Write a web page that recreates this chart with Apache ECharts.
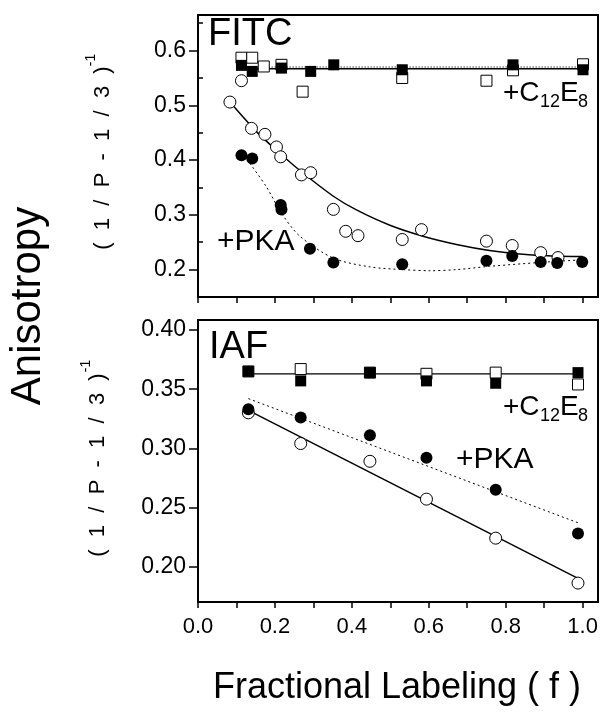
<!DOCTYPE html>
<html>
<head>
<meta charset="utf-8">
<script src="https://cdn.jsdelivr.net/npm/echarts@6/dist/echarts.min.js"></script>
<style>
html,body{margin:0;padding:0;background:#fff;}
#chart{width:608px;height:714px;}
</style>
</head>
<body>
<div id="chart"></div>
<script>
// ---------- DATA ----------
// FITC panel
const fitcSqFilledF = [0.113, 0.141, 0.217, 0.293, 0.353, 0.531, 0.819, 1.001];
const fitcSqFilledV = [0.573, 0.562, 0.568, 0.562, 0.574, 0.565, 0.574, 0.565];
const fitcSqOpenF = [0.113, 0.141, 0.171, 0.217, 0.272, 0.531, 0.750, 0.819, 1.001];
const fitcSqOpenV = [0.587, 0.587, 0.571, 0.574, 0.525, 0.550, 0.545, 0.564, 0.575];
const fitcCircOpenF = [0.083, 0.113, 0.139, 0.174, 0.204, 0.215, 0.269, 0.293, 0.352, 0.384, 0.416, 0.531, 0.581, 0.750, 0.817, 0.891, 0.936];
const fitcCircOpenV = [0.506, 0.545, 0.458, 0.447, 0.424, 0.406, 0.373, 0.377, 0.310, 0.270, 0.262, 0.255, 0.273, 0.252, 0.244, 0.231, 0.222];
const fitcCircFilledF = [0.113, 0.141, 0.215, 0.217, 0.291, 0.352, 0.531, 0.750, 0.817, 0.891, 0.934, 0.999];
const fitcCircFilledV = [0.409, 0.403, 0.318, 0.310, 0.238, 0.213, 0.210, 0.216, 0.225, 0.214, 0.212, 0.214];
// FITC fitted curves
const fitcDetSolidF = [0.113, 1.0];
const fitcDetSolidV = [0.567, 0.567];
const fitcDetDotF = [0.113, 1.0];
const fitcDetDotV = [0.570, 0.570];
const fitcFitF = [0.083, 0.152, 0.204, 0.265, 0.352, 0.412, 0.499, 0.585, 0.672, 0.758, 0.845, 0.920, 1.0];
const fitcFitV = [0.506, 0.452, 0.418, 0.381, 0.334, 0.309, 0.281, 0.261, 0.246, 0.235, 0.228, 0.225, 0.224];
const fitcPkaFitF = [0.135, 0.178, 0.217, 0.265, 0.352, 0.447, 0.533, 0.603, 0.672, 0.758, 0.888, 1.0];
const fitcPkaFitV = [0.394, 0.351, 0.303, 0.261, 0.221, 0.205, 0.200, 0.198, 0.200, 0.206, 0.213, 0.218];

// IAF panel
const iafF = [0.131, 0.267, 0.447, 0.594, 0.774, 0.988];
const iafSqFilledV = [0.365, 0.357, 0.364, 0.357, 0.355, 0.364];
const iafSqOpenV = [0.365, 0.367, 0.364, 0.363, 0.364, 0.354];
const iafCircFilledV = [0.333, 0.326, 0.311, 0.292, 0.265, 0.228];
const iafCircOpenV = [0.330, 0.304, 0.289, 0.257, 0.224, 0.186];
const iafDetLineF = [0.131, 0.988];
const iafDetLineV = [0.363, 0.363];
const iafFitF = [0.131, 0.988];
const iafFitV = [0.332, 0.190];
const iafPkaFitF = [0.131, 0.988];
const iafPkaFitV = [0.342, 0.237];

// Ticks
const xTickVals = [0, 0.1, 0.2, 0.3, 0.4, 0.5, 0.6, 0.7, 0.8, 0.9, 1.0];
const xLabelVals = [0, 0.2, 0.4, 0.6, 0.8, 1.0];
const yTopLabelVals = [0.2, 0.3, 0.4, 0.5, 0.6];
const yTopMinorVals = [0.15, 0.25, 0.35, 0.45, 0.55, 0.65];
const yBotLabelVals = [0.20, 0.25, 0.30, 0.35, 0.40];

const zip = (a, b) => a.map((v, i) => [v, b[i]]);

const FONT = 'Liberation Sans, Arial, Helvetica, sans-serif';
const chart = echarts.init(document.getElementById('chart'), null, {renderer: 'canvas'});

function xAxisDef(gridIndex, showLabels) {
  return {
    type: 'value', gridIndex, min: 0, max: 1.04,
    axisLine: {show: true, onZero: false, lineStyle: {color: '#000', width: 2}},
    axisTick: {show: true, inside: false, length: 6, lineStyle: {color: '#000', width: 1.5}, customValues: xTickVals},
    axisLabel: {show: showLabels, customValues: xLabelVals, color: '#000', fontSize: 22, fontFamily: FONT, margin: 14,
      formatter: v => v.toFixed(1)},
    splitLine: {show: false}
  };
}

const option = {
  animation: false,
  backgroundColor: '#fff',
  grid: [
    {left: 198, top: 15, width: 400, height: 282, show: true, borderColor: '#000', borderWidth: 2, backgroundColor: 'transparent'},
    {left: 198, top: 320, width: 400, height: 282, show: true, borderColor: '#000', borderWidth: 2, backgroundColor: 'transparent'}
  ],
  xAxis: [xAxisDef(0, false), xAxisDef(1, true)],
  yAxis: [
    {type: 'value', gridIndex: 0, min: 0.15, max: 0.665,
      axisLine: {show: true, onZero: false, lineStyle: {color: '#000', width: 2}},
      axisTick: {show: true, length: 9, lineStyle: {color: '#000', width: 1.5}, customValues: yTopLabelVals},
      axisLabel: {customValues: yTopLabelVals, color: '#000', fontSize: 23, fontFamily: FONT, margin: 12, formatter: v => v.toFixed(1)},
      splitLine: {show: false}},
    {type: 'value', gridIndex: 1, min: 0.17, max: 0.4085,
      axisLine: {show: true, onZero: false, lineStyle: {color: '#000', width: 2}},
      axisTick: {show: true, length: 9, lineStyle: {color: '#000', width: 1.5}, customValues: yBotLabelVals},
      axisLabel: {customValues: yBotLabelVals, color: '#000', fontSize: 23, fontFamily: FONT, margin: 12, formatter: v => v.toFixed(2)},
      splitLine: {show: false}},
    {type: 'value', gridIndex: 0, min: 0.15, max: 0.665,
      axisLine: {show: false},
      axisTick: {show: true, length: 5, lineStyle: {color: '#000', width: 1.5}, customValues: yTopMinorVals},
      axisLabel: {show: false},
      splitLine: {show: false}}
  ],
  series: [
    // ---- FITC panel ----
    {type: 'line', xAxisIndex: 0, yAxisIndex: 0, data: zip(fitcDetSolidF, fitcDetSolidV), symbol: 'none',
      lineStyle: {color: '#000', width: 1.5}, z: 2},
    {type: 'line', xAxisIndex: 0, yAxisIndex: 0, data: zip(fitcDetDotF, fitcDetDotV), symbol: 'none',
      lineStyle: {color: '#444', width: 1.2, type: [1.5, 1.5]}, z: 2},
    {type: 'line', xAxisIndex: 0, yAxisIndex: 0, data: zip(fitcFitF, fitcFitV), symbol: 'none', smooth: 0.3,
      lineStyle: {color: '#000', width: 1.5}, z: 2},
    {type: 'line', xAxisIndex: 0, yAxisIndex: 0, data: zip(fitcPkaFitF, fitcPkaFitV), symbol: 'none', smooth: 0.3,
      lineStyle: {color: '#000', width: 1, type: [2, 3]}, z: 2},
    {type: 'scatter', xAxisIndex: 0, yAxisIndex: 0, data: zip(fitcSqOpenF, fitcSqOpenV), symbol: 'rect', symbolSize: 11,
      itemStyle: {color: '#fff', borderColor: '#000', borderWidth: 1, opacity: 1}, z: 3},
    {type: 'scatter', xAxisIndex: 0, yAxisIndex: 0, data: zip(fitcSqFilledF, fitcSqFilledV), symbol: 'rect', symbolSize: 11,
      itemStyle: {color: '#000', opacity: 1}, z: 4},
    {type: 'scatter', xAxisIndex: 0, yAxisIndex: 0, data: zip(fitcCircOpenF, fitcCircOpenV), symbol: 'circle', symbolSize: 12,
      itemStyle: {color: '#fff', borderColor: '#000', borderWidth: 1, opacity: 1}, z: 3},
    {type: 'scatter', xAxisIndex: 0, yAxisIndex: 0, data: zip(fitcCircFilledF, fitcCircFilledV), symbol: 'circle', symbolSize: 12,
      itemStyle: {color: '#000', opacity: 1}, z: 4},
    // ---- IAF panel ----
    {type: 'line', xAxisIndex: 1, yAxisIndex: 1, data: zip(iafDetLineF, iafDetLineV), symbol: 'none',
      lineStyle: {color: '#000', width: 1.2}, z: 2},
    {type: 'line', xAxisIndex: 1, yAxisIndex: 1, data: zip(iafFitF, iafFitV), symbol: 'none',
      lineStyle: {color: '#000', width: 1.5}, z: 2},
    {type: 'line', xAxisIndex: 1, yAxisIndex: 1, data: zip(iafPkaFitF, iafPkaFitV), symbol: 'none',
      lineStyle: {color: '#000', width: 1, type: [2, 3]}, z: 2},
    {type: 'scatter', xAxisIndex: 1, yAxisIndex: 1, data: zip(iafF, iafSqOpenV), symbol: 'rect', symbolSize: 11,
      itemStyle: {color: '#fff', borderColor: '#000', borderWidth: 1, opacity: 1}, z: 3},
    {type: 'scatter', xAxisIndex: 1, yAxisIndex: 1, data: zip(iafF, iafSqFilledV), symbol: 'rect', symbolSize: 11,
      itemStyle: {color: '#000', opacity: 1}, z: 4},
    {type: 'scatter', xAxisIndex: 1, yAxisIndex: 1, data: zip(iafF, iafCircOpenV), symbol: 'circle', symbolSize: 12,
      itemStyle: {color: '#fff', borderColor: '#000', borderWidth: 1, opacity: 1}, z: 3},
    {type: 'scatter', xAxisIndex: 1, yAxisIndex: 1, data: zip(iafF, iafCircFilledV), symbol: 'circle', symbolSize: 12,
      itemStyle: {color: '#000', opacity: 1}, z: 4}
  ],
  graphic: [
    {type: 'text', left: 208, top: 16, style: {text: 'FITC', font: '38px ' + FONT, fill: '#000'}, z: 10},
    {type: 'text', left: 209, top: 329, style: {text: 'IAF', font: '38px ' + FONT, fill: '#000'}, z: 10},
    // +C12E8 (top)
    {type: 'text', x: 503, y: 93, style: {text: '+C', font: '28px ' + FONT, fill: '#000', verticalAlign: 'middle'}, z: 10},
    {type: 'text', x: 540, y: 102, style: {text: '12', font: '18px ' + FONT, fill: '#000', verticalAlign: 'middle'}, z: 10},
    {type: 'text', x: 560, y: 93, style: {text: 'E', font: '28px ' + FONT, fill: '#000', verticalAlign: 'middle'}, z: 10},
    {type: 'text', x: 578, y: 102, style: {text: '8', font: '18px ' + FONT, fill: '#000', verticalAlign: 'middle'}, z: 10},
    // +C12E8 (bottom)
    {type: 'text', x: 503, y: 407, style: {text: '+C', font: '28px ' + FONT, fill: '#000', verticalAlign: 'middle'}, z: 10},
    {type: 'text', x: 540, y: 416, style: {text: '12', font: '18px ' + FONT, fill: '#000', verticalAlign: 'middle'}, z: 10},
    {type: 'text', x: 560, y: 407, style: {text: 'E', font: '28px ' + FONT, fill: '#000', verticalAlign: 'middle'}, z: 10},
    {type: 'text', x: 578, y: 416, style: {text: '8', font: '18px ' + FONT, fill: '#000', verticalAlign: 'middle'}, z: 10},
    // +PKA
    {type: 'text', x: 217, y: 242, style: {text: '+PKA', font: '30px ' + FONT, fill: '#000', verticalAlign: 'middle'}, z: 10},
    {type: 'text', x: 456, y: 460, style: {text: '+PKA', font: '30px ' + FONT, fill: '#000', verticalAlign: 'middle'}, z: 10},
    // Y titles
    {type: 'text', x: 28, y: 306, rotation: Math.PI / 2,
      style: {text: 'Anisotropy', font: '42px ' + FONT, fill: '#000', align: 'center', verticalAlign: 'middle'}, z: 10},
    {type: 'text', x: 103, y: 158, rotation: Math.PI / 2,
      style: {text: '(  1  /  P  -  1  /  3  )', font: '22px ' + FONT, fill: '#000', align: 'center', verticalAlign: 'middle'}, z: 10},
    {type: 'text', x: 91, y: 60, rotation: Math.PI / 2,
      style: {text: '-1', font: '14px ' + FONT, fill: '#000', align: 'center', verticalAlign: 'middle'}, z: 10},
    {type: 'text', x: 98, y: 465, rotation: Math.PI / 2,
      style: {text: '(  1  /  P  -  1  /  3  )', font: '22px ' + FONT, fill: '#000', align: 'center', verticalAlign: 'middle'}, z: 10},
    {type: 'text', x: 86, y: 366, rotation: Math.PI / 2,
      style: {text: '-1', font: '14px ' + FONT, fill: '#000', align: 'center', verticalAlign: 'middle'}, z: 10},
    // X title
    {type: 'text', x: 397, y: 688,
      style: {text: 'Fractional Labeling ( f )', font: '36px ' + FONT, fill: '#000', align: 'center', verticalAlign: 'middle'}, z: 10}
  ]
};
chart.setOption(option);
</script>
</body>
</html>
